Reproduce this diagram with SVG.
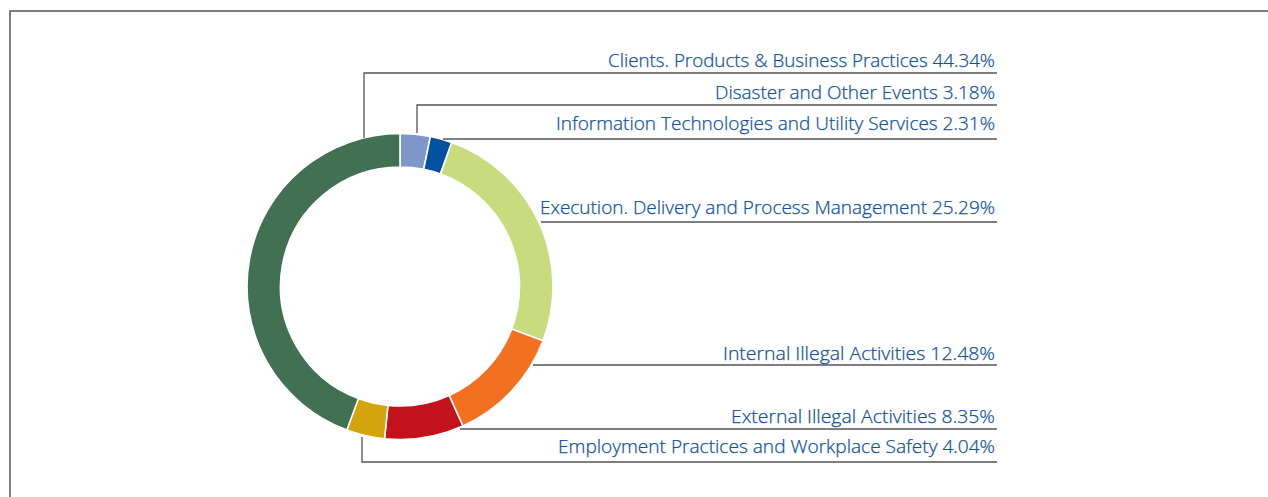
<svg xmlns="http://www.w3.org/2000/svg" width="1268" height="497" viewBox="0 0 1268 497">
<style>
.seg{stroke:#ffffff;stroke-width:1.6;stroke-linejoin:miter}
.lead{fill:none;stroke:#555555;stroke-width:1.3}
.lbl{font-family:"Open Sans","Noto Sans","Liberation Sans",sans-serif;font-size:18px;font-weight:300;fill:#0f52a3;stroke:#0f52a3;stroke-width:0.25;text-anchor:end}
</style>
<rect x="0" y="0" width="1268" height="497" fill="#ffffff"/>
<polyline points="10,497 10,11 1268,11" fill="none" stroke="#555555" stroke-width="1.5"/>
<g id="donut" transform="translate(400,286.5)">
  <g id="seg-disaster"><path class="seg" fill="#7f96c8" d="M0,-153 A153,153 0 0 1 30.366,-149.955 L23.717,-117.122 A119.5,119.5 0 0 0 0,-119.5 Z"/></g>
  <g id="seg-it"><path class="seg" fill="#0052a0" d="M30.366,-149.955 A153,153 0 0 1 51.737,-143.987 L40.409,-112.460 A119.5,119.5 0 0 0 23.717,-117.122 Z"/></g>
  <g id="seg-execution"><path class="seg" fill="#c8dc7e" d="M51.737,-143.987 A153,153 0 0 1 143.020,54.352 L111.705,42.451 A119.5,119.5 0 0 0 40.409,-112.460 Z"/></g>
  <g id="seg-internal"><path class="seg" fill="#f37021" d="M143.020,54.352 A153,153 0 0 1 62.875,139.484 L49.109,108.943 A119.5,119.5 0 0 0 111.705,42.451 Z"/></g>
  <g id="seg-external"><path class="seg" fill="#c3121c" d="M62.875,139.484 A153,153 0 0 1 -15.451,152.218 L-12.068,118.889 A119.5,119.5 0 0 0 49.109,108.943 Z"/></g>
  <g id="seg-employment"><path class="seg" fill="#d3a50a" d="M-15.451,152.218 A153,153 0 0 1 -53.181,143.460 L-41.537,112.049 A119.5,119.5 0 0 0 -12.068,118.889 Z"/></g>
  <g id="seg-clients"><path class="seg" fill="#417052" d="M-53.181,143.460 A153,153 0 0 1 0,-153 L0,-119.5 A119.5,119.5 0 0 0 -41.537,112.049 Z"/></g>
</g>
<g id="connectors">
  <polyline class="lead" points="364,138 364,73 997,73"/>
  <polyline class="lead" points="417,133 417,105 997,105"/>
  <polyline class="lead" points="443,139 997,139"/>
  <polyline class="lead" points="541,222 997,222"/>
  <polyline class="lead" points="533,365 997,365"/>
  <polyline class="lead" points="460,429 997,429"/>
  <polyline class="lead" points="362,437 362,462 997,462"/>
</g>
<g id="label-clients"><text class="lbl" x="995" y="67" textLength="387" lengthAdjust="spacingAndGlyphs">Clients. Products &amp; Business Practices 44.34%</text></g>
<g id="label-disaster"><text class="lbl" x="995" y="99" textLength="280" lengthAdjust="spacingAndGlyphs">Disaster and Other Events 3.18%</text></g>
<g id="label-it"><text class="lbl" x="995" y="130" textLength="439" lengthAdjust="spacingAndGlyphs">Information Technologies and Utility Services 2.31%</text></g>
<g id="label-execution"><text class="lbl" x="995" y="214" textLength="455" lengthAdjust="spacingAndGlyphs">Execution. Delivery and Process Management 25.29%</text></g>
<g id="label-internal"><text class="lbl" x="995" y="359.5" textLength="272" lengthAdjust="spacingAndGlyphs">Internal Illegal Activities 12.48%</text></g>
<g id="label-external"><text class="lbl" x="995" y="423" textLength="264" lengthAdjust="spacingAndGlyphs">External Illegal Activities 8.35%</text></g>
<g id="label-employment"><text class="lbl" x="995" y="453" textLength="437" lengthAdjust="spacingAndGlyphs">Employment Practices and Workplace Safety 4.04%</text></g>
</svg>
